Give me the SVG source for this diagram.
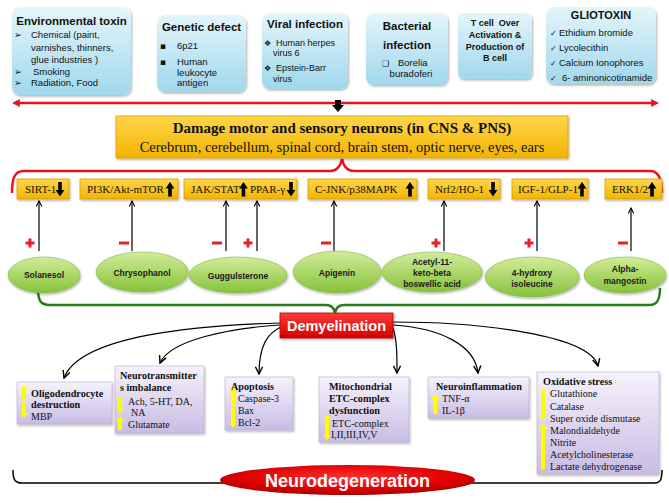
<svg xmlns="http://www.w3.org/2000/svg" width="669" height="503" viewBox="0 0 669 503">
<defs>
<linearGradient id="gBlue" x1="0" y1="0" x2="0" y2="1"><stop offset="0" stop-color="#e4f5fb"/><stop offset="1" stop-color="#a0d8ec"/></linearGradient>
<linearGradient id="gGold" x1="0" y1="0" x2="0" y2="1"><stop offset="0" stop-color="#ffd64a"/><stop offset="1" stop-color="#f2b400"/></linearGradient>
<linearGradient id="gGreen" x1="0" y1="0" x2="0" y2="1"><stop offset="0" stop-color="#d2ec9a"/><stop offset="1" stop-color="#86c23a"/></linearGradient>
<linearGradient id="gPurple" x1="0" y1="0" x2="0" y2="1"><stop offset="0" stop-color="#f6f2fc"/><stop offset="1" stop-color="#c8bce4"/></linearGradient>
<linearGradient id="gRed" x1="0" y1="0" x2="0" y2="1"><stop offset="0" stop-color="#ff3a3a"/><stop offset="1" stop-color="#d40000"/></linearGradient>
<radialGradient id="gRedEl" cx="0.5" cy="0.4" r="0.6"><stop offset="0" stop-color="#ff3030"/><stop offset="0.7" stop-color="#e00000"/><stop offset="1" stop-color="#a80000"/></radialGradient>
<filter id="sh" x="-10%" y="-10%" width="125%" height="130%"><feDropShadow dx="1" dy="1.5" stdDeviation="1.2" flood-color="#000" flood-opacity="0.3"/></filter>
<marker id="ah" viewBox="0 0 10 10" refX="9" refY="5" markerWidth="7" markerHeight="7" markerUnits="userSpaceOnUse" orient="auto"><path d="M1,1 L9,5 L1,9" fill="none" stroke="#000" stroke-width="1.5"/></marker>
<marker id="ah2" viewBox="0 0 10 10" refX="9" refY="5" markerWidth="9" markerHeight="9" markerUnits="userSpaceOnUse" orient="auto"><path d="M1,1 L9,5 L1,9" fill="none" stroke="#000" stroke-width="1.6"/></marker>
<marker id="rh" viewBox="0 0 10 10" refX="1" refY="5" markerWidth="8" markerHeight="8" markerUnits="userSpaceOnUse" orient="auto-start-reverse"><path d="M0,0 L10,5 L0,10 Z" fill="#e8141c"/></marker>
<path id="bdn" d="M-1.8,0 H1.8 V8 H4.4 L0,14.5 L-4.4,8 H-1.8 Z"/>
<path id="bup" d="M-1.8,14.5 H1.8 V6.5 H4.4 L0,0 L-4.4,6.5 H-1.8 Z"/>
<g id="plus"><rect x="-4.5" y="-1.5" width="9" height="3"/><rect x="-1.5" y="-4.5" width="3" height="9"/></g>
<rect id="minus" x="-5" y="-1.5" width="10" height="3"/>
</defs>
<style>
.blue{fill:url(#gBlue);filter:url(#sh)}
.gold{fill:url(#gGold);stroke:#d99f00;stroke-width:0.8;filter:url(#sh)}
.green{fill:url(#gGreen);stroke:#86b94a;stroke-width:0.6;filter:url(#sh)}
.purple{fill:url(#gPurple);stroke:#b8acd6;stroke-width:0.6;filter:url(#sh)}
.t{font-family:"Liberation Sans",Arial,sans-serif;fill:#111}
.tb{font-family:"Liberation Sans",Arial,sans-serif;font-weight:bold;fill:#111}
.sym{font-family:"DejaVu Sans",sans-serif;fill:#111}
.sv{font-family:"Liberation Serif","Times New Roman",serif;fill:#111}
.svb{font-family:"Liberation Serif","Times New Roman",serif;font-weight:bold;fill:#111}
.gl{font-family:"Liberation Sans",Arial,sans-serif;font-weight:bold;font-size:8.5px;fill:#1a1a1a;text-anchor:middle}
.ya{fill:#ffff00}
.sign{fill:#e8202a}
.ln{fill:none;stroke:#000;stroke-width:1.2}
</style>

<g id="connectors">
<line x1="19" y1="103" x2="652" y2="103" stroke="#e8141c" stroke-width="2.5" marker-start="url(#rh)" marker-end="url(#rh)"/>
<path d="M335,100 H341 V105 H344 L338,112 L332,105 H335 Z" fill="#000"/>
<path d="M12,193 C12,179 14,171 24,171 H330 C336,171 340,168 342,159 C344,168 348,171 354,171 H650 C658,171 662,178 662,193" fill="none" stroke="#e8141c" stroke-width="2.5"/>
<path d="M38,288 C38,300 40,305 50,305 H326 C331,305 334,307 335,313 C336,307 339,305 344,305 H650 C657,305 660,300 660,288" fill="none" stroke="#2a7a1e" stroke-width="2.5"/>
<path d="M13,470 C13,480 15,483 22,483 H655 C660,483 662,480 662,470" fill="none" stroke="#000" stroke-width="1.5"/>
<g class="ln" marker-end="url(#ah)">
<line x1="39" y1="251" x2="39" y2="201"/>
<line x1="132" y1="251" x2="132" y2="201"/>
<line x1="226" y1="251" x2="226" y2="201"/>
<line x1="257" y1="251" x2="257" y2="201"/>
<line x1="334" y1="251" x2="334" y2="201"/>
<line x1="444" y1="251" x2="444" y2="201"/>
<line x1="537" y1="251" x2="537" y2="201"/>
<line x1="631" y1="251" x2="631" y2="208"/>
</g>
<g class="ln" stroke-width="1.3" marker-end="url(#ah2)">
<path d="M280,323 C200,325 80,335 64,378"/>
<path d="M280,325 C230,328 170,340 160,363"/>
<path d="M281,327 C268,333 259,345 259,374"/>
<path d="M393,328 C397,340 397,355 397,373"/>
<path d="M393,325 C440,328 475,345 478,373"/>
<path d="M393,322 C480,322 590,335 598,366"/>
</g>
<g class="sign">
<use href="#plus" x="30" y="243"/>
<use href="#minus" x="124" y="243"/>
<use href="#minus" x="217" y="243"/>
<use href="#plus" x="248" y="243"/>
<use href="#minus" x="326" y="243"/>
<use href="#plus" x="436" y="243"/>
<use href="#plus" x="529" y="243"/>
<use href="#minus" x="623" y="243"/>
</g>
</g>

<g id="env-toxin">
<rect class="blue" x="12" y="7" width="119" height="88" rx="8"/>
<text class="tb" x="71.5" y="25" font-size="11.5" text-anchor="middle">Environmental toxin</text>
<g font-size="9.5">
<text class="sym" x="14" y="37.5" font-size="9.5">➢</text><text class="t" x="31" y="37.5">Chemical (paint,</text>
<text class="t" x="31" y="51">varnishes, thinners,</text>
<text class="t" x="31" y="63">glue industries )</text>
<text class="sym" x="14" y="74.5" font-size="9.5">➢</text><text class="t" x="33" y="74.5">Smoking</text>
<text class="sym" x="14" y="85.5" font-size="9.5">➢</text><text class="t" x="31" y="85.5">Radiation, Food</text>
</g>
</g>

<g id="genetic-defect">
<rect class="blue" x="157" y="15" width="89" height="77" rx="8"/>
<text class="tb" x="201.5" y="31" font-size="11.5" text-anchor="middle">Genetic defect</text>
<g font-size="9.5">
<text class="sym" x="160" y="48.5" font-size="9">▪</text><text class="t" x="177" y="48.5">6p21</text>
<text class="sym" x="160" y="64.5" font-size="9">▪</text><text class="t" x="177" y="64.5">Human</text>
<text class="t" x="177" y="75.5">leukocyte</text>
<text class="t" x="177" y="86">antigen</text>
</g>
</g>

<g id="viral-infection">
<rect class="blue" x="262" y="13" width="86" height="76" rx="8"/>
<text class="tb" x="305" y="28" font-size="11.5" text-anchor="middle">Viral infection</text>
<g font-size="9">
<text class="sym" x="264" y="45.5" font-size="8">❖</text><text class="t" x="276" y="45.5">Human herpes</text>
<text class="t" x="273" y="56">virus 6</text>
<text class="sym" x="264" y="71" font-size="8">❖</text><text class="t" x="276" y="71">Epstein-Barr</text>
<text class="t" x="273" y="81.5">virus</text>
</g>
</g>

<g id="bacterial-infection">
<rect class="blue" x="366" y="13" width="82" height="72" rx="8"/>
<text class="tb" x="407" y="29.5" font-size="11.5" text-anchor="middle">Bacterial</text>
<text class="tb" x="407" y="48.5" font-size="11.5" text-anchor="middle">infection</text>
<text class="sym" x="382" y="66" font-size="8">❑</text><text class="t" x="398" y="66" font-size="9.5">Borelia</text>
<text class="t" x="411" y="76.5" font-size="9.5" text-anchor="middle">buradoferi</text>
</g>

<g id="t-cell">
<rect class="blue" x="458" y="13" width="74" height="66" rx="6"/>
<g class="tb" font-size="9" text-anchor="middle">
<text x="495" y="25.5">T cell&#160; Over</text>
<text x="495" y="37.5">Activation &amp;</text>
<text x="495" y="49.5">Production of</text>
<text x="495" y="60.5">B cell</text>
</g>
</g>

<g id="gliotoxin">
<rect class="blue" x="546" y="7" width="110" height="77" rx="8"/>
<text class="tb" x="601" y="18.5" font-size="11" text-anchor="middle">GLIOTOXIN</text>
<g font-size="9.5">
<text class="sym" x="550" y="35.5" font-size="8">✓</text><text class="t" x="559" y="35.5">Ethidium bromide</text>
<text class="sym" x="550" y="50.5" font-size="8">✓</text><text class="t" x="559" y="50.5">Lycolecithin</text>
<text class="sym" x="550" y="65.5" font-size="8">✓</text><text class="t" x="559" y="65.5">Calcium Ionophores</text>
<text class="sym" x="550" y="81" font-size="8">✓</text><text class="t" x="562" y="81">6- aminonicotinamide</text>
</g>
</g>

<g id="damage">
<rect class="gold" x="116" y="116" width="452" height="42"/>
<text class="svb" x="342" y="133" font-size="15" text-anchor="middle">Damage motor and sensory neurons (in CNS &amp; PNS)</text>
<text class="sv" x="342" y="152" font-size="14.5" text-anchor="middle">Cerebrum, cerebellum, spinal cord, brain stem, optic nerve, eyes, ears</text>
</g>

<g id="targets" font-size="11">
<g id="sirt1"><rect class="gold" x="17" y="179" width="52" height="20"/><text class="sv" x="25" y="193">SIRT-1</text><use href="#bdn" x="60" y="182"/></g>
<g id="pi3k"><rect class="gold" x="80" y="179" width="98" height="20"/><text class="sv" x="87" y="193">PI3K/Akt-mTOR</text><use href="#bup" x="170" y="182"/></g>
<g id="jak"><rect class="gold" x="184" y="179" width="113" height="20"/><text class="sv" x="191" y="193">JAK/STAT</text><use href="#bup" x="243.5" y="182"/><text class="sv" x="250" y="193">PPAR-γ</text><use href="#bdn" x="291" y="182"/></g>
<g id="cjnk"><rect class="gold" x="308" y="179" width="109" height="20"/><text class="sv" x="315" y="193">C-JNK/p38MAPK</text><use href="#bup" x="410" y="182"/></g>
<g id="nrf2"><rect class="gold" x="428" y="179" width="72" height="20"/><text class="sv" x="435" y="193">Nrf2/HO-1</text><use href="#bdn" x="493" y="182"/></g>
<g id="igf"><rect class="gold" x="512" y="179" width="76" height="20"/><text class="sv" x="518" y="193">IGF-1/GLP-1</text><use href="#bup" x="582" y="182"/></g>
<g id="erk"><rect class="gold" x="605" y="179" width="57" height="20"/><text class="sv" x="612" y="193">ERK1/2</text><use href="#bup" x="652" y="182"/></g>
</g>

<g id="solanesol"><ellipse class="green" cx="44" cy="275" rx="36" ry="18"/><text class="gl" x="44" y="278">Solanesol</text></g>
<g id="chrysophanol"><ellipse class="green" cx="142" cy="272" rx="46" ry="20"/><text class="gl" x="142" y="276">Chrysophanol</text></g>
<g id="guggulsterone"><ellipse class="green" cx="238" cy="275" rx="49" ry="18"/><text class="gl" x="238" y="279">Guggulsterone</text></g>
<g id="apigenin"><ellipse class="green" cx="337" cy="272" rx="44" ry="21"/><text class="gl" x="337" y="276">Apigenin</text></g>
<g id="akba"><ellipse class="green" cx="432" cy="272" rx="50" ry="20"/><text class="gl" x="432" y="265">Acetyl-11-</text><text class="gl" x="432" y="276">keto-beta</text><text class="gl" x="432" y="287">boswellic acid</text></g>
<g id="hydroxyisoleucine"><ellipse class="green" cx="532" cy="277" rx="47" ry="20"/><text class="gl" x="532" y="276">4-hydroxy</text><text class="gl" x="532" y="287">isoleucine</text></g>
<g id="alpha-mangostin"><ellipse class="green" cx="625" cy="275" rx="41" ry="18"/><text class="gl" x="625" y="272">Alpha-</text><text class="gl" x="625" y="284">mangostin</text></g>

<g id="demyelination">
<rect x="280" y="313" width="113" height="25" fill="url(#gRed)" stroke="#b00000" stroke-width="0.8" filter="url(#sh)"/>
<text x="336.5" y="331" font-family="Liberation Sans, Arial, sans-serif" font-weight="bold" font-size="14.5" fill="#fff" text-anchor="middle">Demyelination</text>
</g>

<g id="oligo">
<rect class="purple" x="17" y="382" width="95" height="42"/>
<path class="ya" d="M22,400 V390 H20 L24,385 L28,390 H26 V400 Z"/>
<path class="ya" d="M22,402 V413 H20 L24,418 L28,413 H26 V402 Z"/>
<text class="svb" x="31" y="397" font-size="10.2">Oligodendrocyte</text>
<text class="svb" x="31" y="408" font-size="10.2">destruction</text>
<text class="sv" x="31" y="420" font-size="10">MBP</text>
</g>

<g id="neurotransmitters">
<rect class="purple" x="115" y="366" width="89" height="67"/>
<path class="ya" d="M118,398 V409 H116 L120,414 L124,409 H122 V398 Z"/>
<path class="ya" d="M118,430 V421 H116 L120,416 L124,421 H122 V430 Z"/>
<text class="svb" x="120" y="379" font-size="10.2">Neurotransmitter</text>
<text class="svb" x="120" y="391" font-size="10.2">s imbalance</text>
<text class="sv" x="128" y="405" font-size="10">Ach, 5-HT, DA,</text>
<text class="sv" x="131" y="416" font-size="10">NA</text>
<text class="sv" x="128" y="428" font-size="10">Glutamate</text>
</g>

<g id="apoptosis">
<rect class="purple" x="225" y="377" width="68" height="53"/>
<path class="ya" d="M231,406 V392 H229 L233,387 L237,392 H235 V406 Z"/>
<path class="ya" d="M231,408 V423 H229 L233,428 L237,423 H235 V408 Z"/>
<text class="svb" x="231" y="390" font-size="10.2">Apoptosis</text>
<text class="sv" x="238" y="402" font-size="10">Caspase-3</text>
<text class="sv" x="238" y="414" font-size="10">Bax</text>
<text class="sv" x="238" y="426" font-size="10">Bcl-2</text>
</g>

<g id="mitochondrial">
<rect class="purple" x="319" y="377" width="90" height="65"/>
<path class="ya" d="M325,416 V435 H323 L327,440 L331,435 H329 V416 Z"/>
<text class="svb" x="329" y="390" font-size="10.2">Mitochondrial</text>
<text class="svb" x="329" y="402" font-size="10.2">ETC-complex</text>
<text class="svb" x="329" y="414" font-size="10.2">dysfunction</text>
<text class="sv" x="332" y="427" font-size="10">ETC-complex</text>
<text class="sv" x="331" y="438" font-size="10">I,II,III,IV,V</text>
</g>

<g id="neuroinflammation">
<rect class="purple" x="428" y="377" width="101" height="41"/>
<path class="ya" d="M433,414 V399 H431 L435,394 L439,399 H437 V414 Z"/>
<text class="svb" x="436" y="390" font-size="10.2">Neuroinflammation</text>
<text class="sv" x="442" y="402" font-size="10">TNF-α</text>
<text class="sv" x="442" y="414" font-size="10">IL-1β</text>
</g>

<g id="oxidative">
<rect class="purple" x="537" y="372" width="122" height="102"/>
<path class="ya" d="M541,389 V415 H539 L543,420 L547,415 H545 V389 Z"/>
<path class="ya" d="M541,469 V429 H539 L543,424 L547,429 H545 V469 Z"/>
<text class="svb" x="543" y="385" font-size="10.2">Oxidative stress</text>
<g class="sv" font-size="10">
<text x="550" y="397">Glutathione</text>
<text x="550" y="409.5">Catalase</text>
<text x="550" y="421.5">Super oxide dismutase</text>
<text x="550" y="433.5">Malondialdehyde</text>
<text x="550" y="445.5">Nitrite</text>
<text x="550" y="457.5">Acetylcholinesterase</text>
<text x="550" y="469.5">Lactate dehydrogenase</text>
</g>
</g>

<g id="neurodegeneration">
<ellipse cx="347.5" cy="480" rx="127.5" ry="15" fill="url(#gRedEl)"/>
<text x="347.5" y="487" font-family="Liberation Sans, Arial, sans-serif" font-weight="bold" font-size="18" fill="#fff" text-anchor="middle">Neurodegeneration</text>
</g>
</svg>
